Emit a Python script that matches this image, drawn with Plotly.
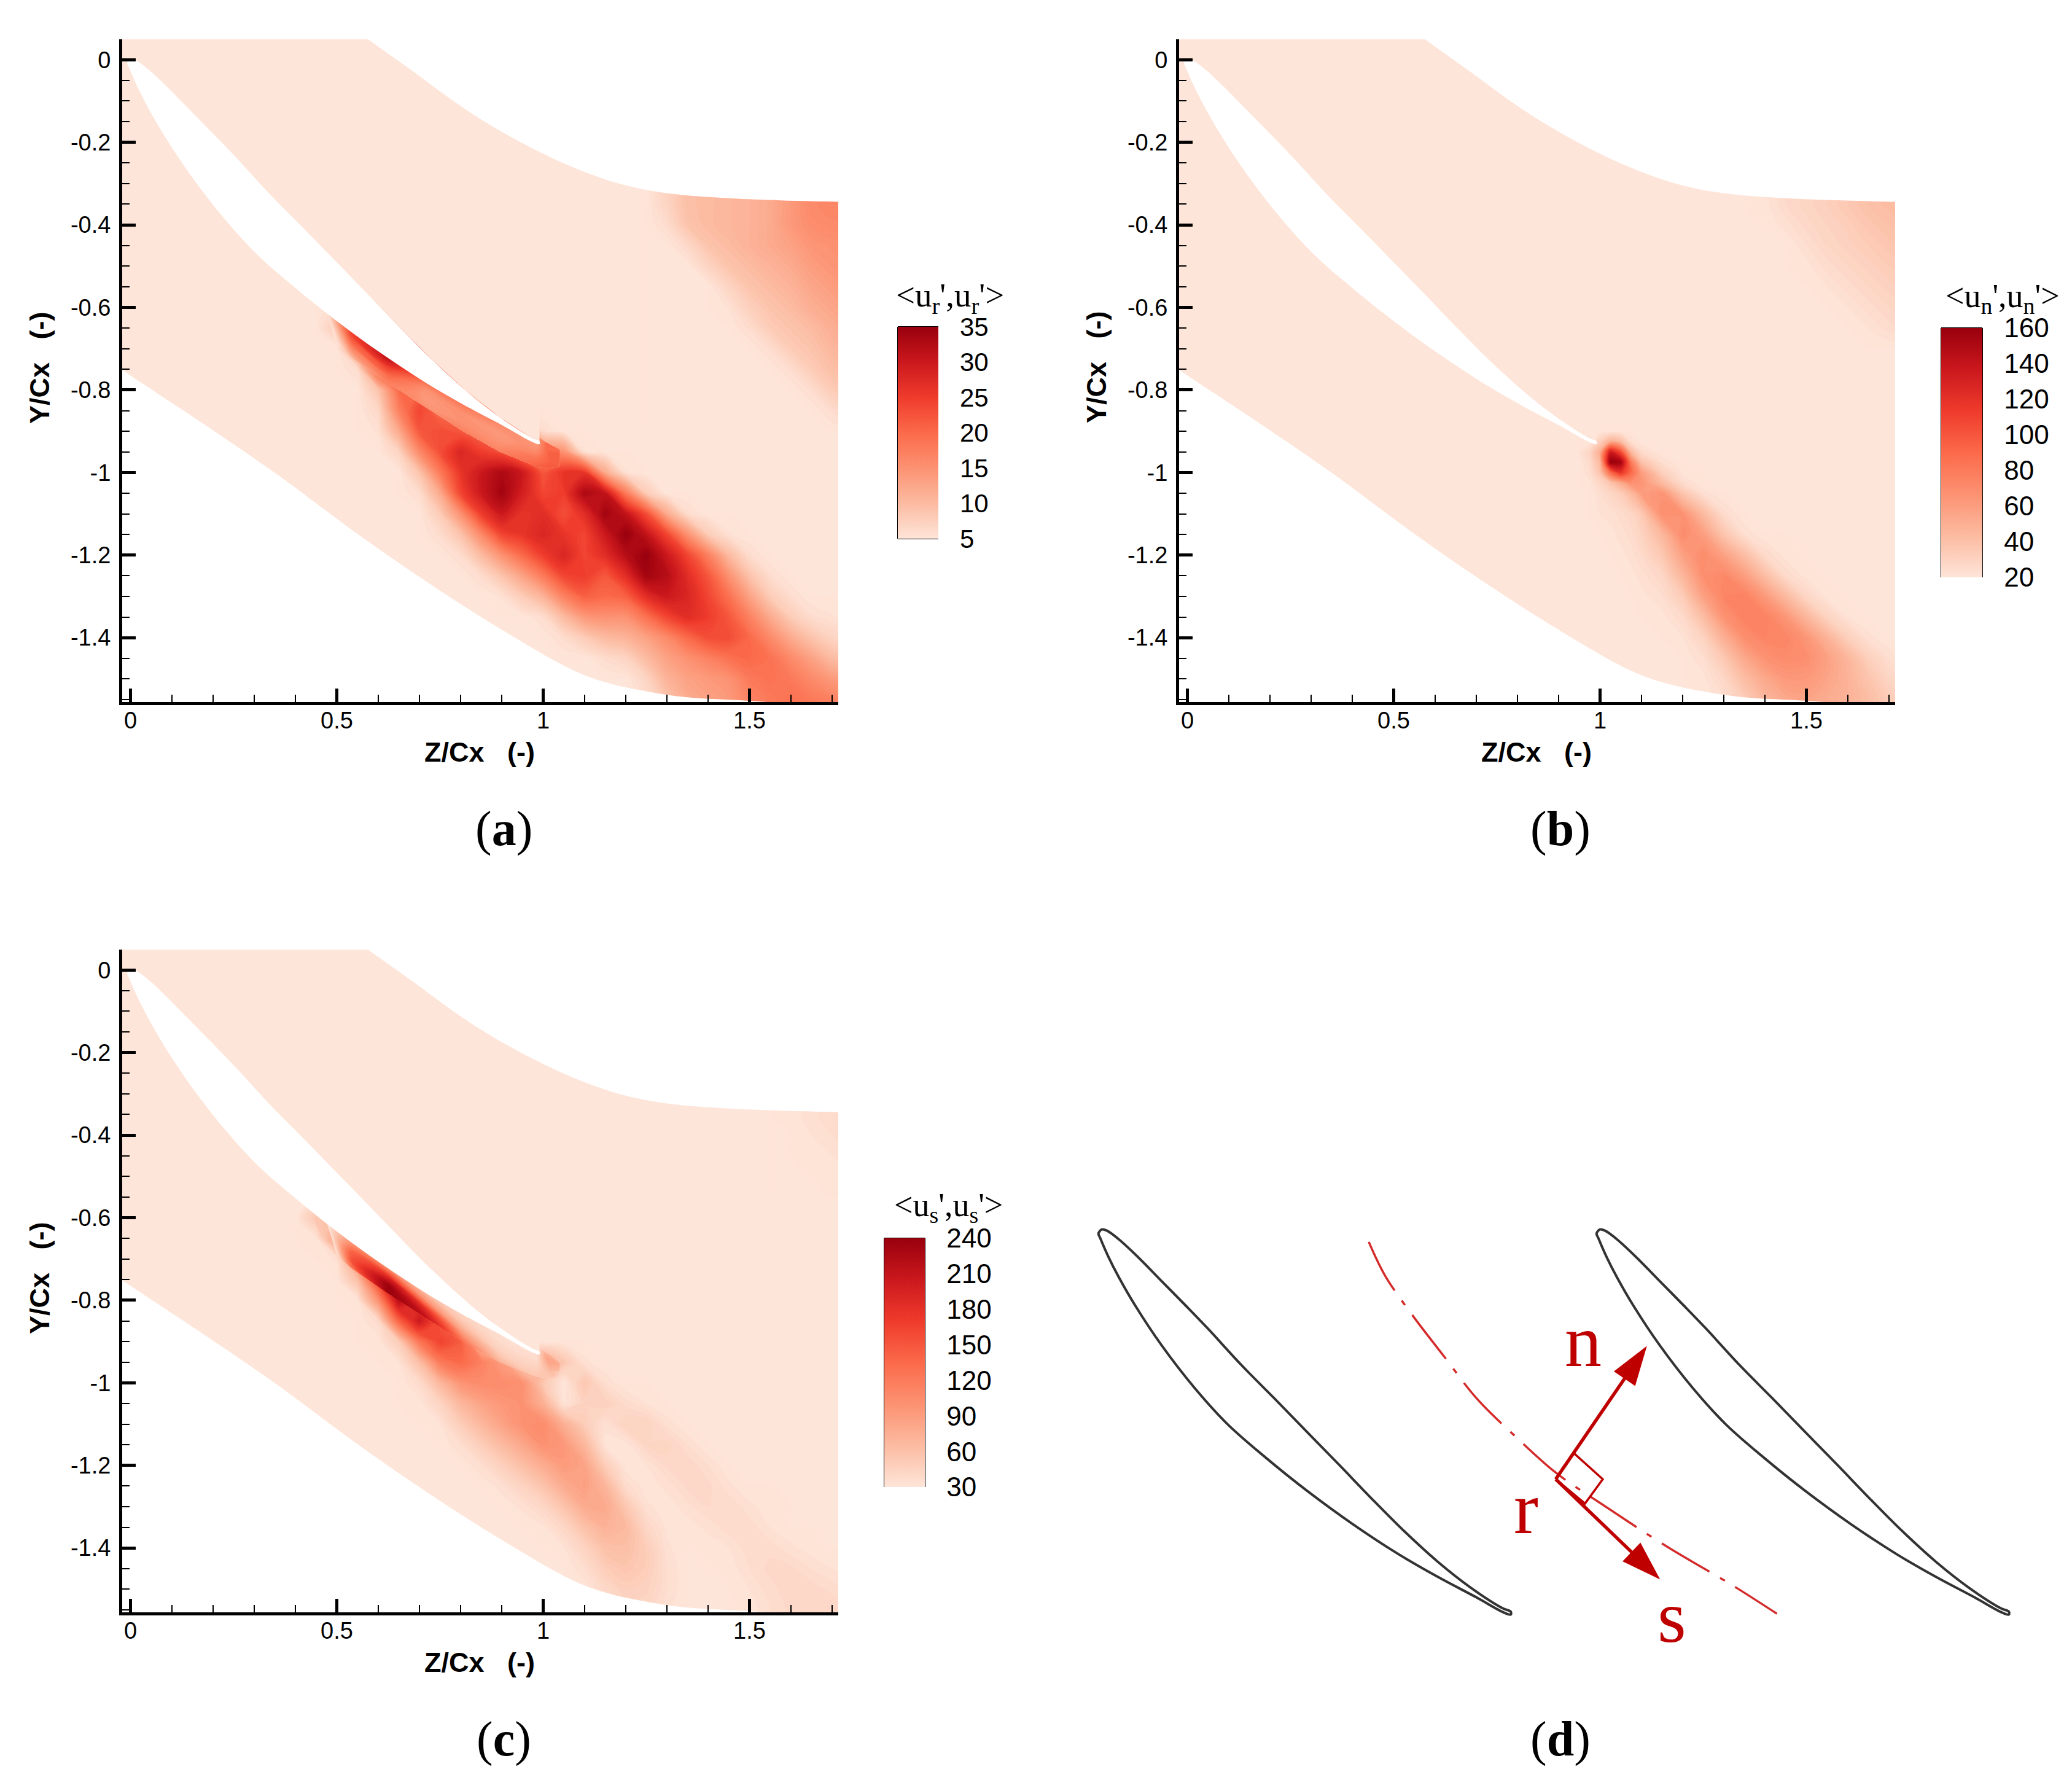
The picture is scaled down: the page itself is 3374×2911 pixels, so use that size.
import plotly.graph_objects as go

W, H = 3374, 2911
BG = "#fee5d9"
RED = "#bf0000"
reds = ["#fee5d9", "#fcbba1", "#fc9272", "#fb6a4a", "#ef3b2c", "#cb181d", "#99000d"]

# blade outline, same for all panels
blade_up_z = [0.0, 0.0126, 0.041, 0.091, 0.14, 0.204, 0.257, 0.337, 0.416, 0.496, 0.575, 0.654, 0.734, 0.813, 0.893, 0.972, 0.991]
blade_up_y = [0.002, -0.001, -0.0215, -0.068, -0.118, -0.183, -0.238, -0.325, -0.405, -0.487, -0.568, -0.65, -0.73, -0.802, -0.865, -0.916, -0.924]
blade_lo_z = [-0.008, -0.0037, 0.016, 0.041, 0.0815, 0.146, 0.225, 0.305, 0.40, 0.496, 0.607, 0.718, 0.813, 0.909, 0.972, 0.991]
blade_lo_y = [-0.008, -0.019, -0.064, -0.113, -0.183, -0.28, -0.382, -0.47, -0.553, -0.63, -0.711, -0.784, -0.839, -0.89, -0.925, -0.931]

# passage limits
top_z = [0.576, 0.684, 0.813, 0.942, 1.071, 1.184, 1.297, 1.458, 1.715, 1.8]
top_y = [0.049, -0.028, -0.121, -0.198, -0.26, -0.30, -0.323, -0.336, -0.344, -0.345]
low_z = [-0.05, -0.0245, 0.166, 0.353, 0.534, 0.714, 0.895, 1.075, 1.165, 1.255, 1.345, 1.499, 1.6, 1.8]
low_y = [-0.728, -0.748, -0.875, -1.003, -1.137, -1.262, -1.378, -1.48, -1.512, -1.531, -1.544, -1.553, -1.562, -1.6]

# strip under the blade, between its surface and the mesh interface line
band_top_z = [0.47, 0.534, 0.624, 0.714, 0.804, 0.895, 0.985, 1.003, 1.04]
band_top_y = [-0.595, -0.643, -0.705, -0.757, -0.814, -0.863, -0.911, -0.925, -0.945]
band_edge_z = [0.50, 0.534, 0.624, 0.714, 0.804, 0.895, 0.985, 1.025, 1.04]
band_edge_y = [-0.69, -0.721, -0.783, -0.841, -0.899, -0.95, -0.986, -0.988, -0.985]

xtick_vals = [0, 0.5, 1, 1.5]
xtick_text = ["0", "0.5", "1", "1.5"]
ytick_vals = [0, -0.2, -0.4, -0.6, -0.8, -1, -1.2, -1.4]
ytick_text = ["0", "-0.2", "-0.4", "-0.6", "-0.8", "-1", "-1.2", "-1.4"]

# panel (a) <ur',ur'>
a_ticks = [5, 10, 15, 20, 25, 30, 35]
a_lines = [25, 30]
a_wake_z = [0.45, 0.5, 0.55, 0.6, 0.65, 0.7, 0.75, 0.8, 0.85, 0.9, 0.95, 1.0, 1.05, 1.1, 1.15, 1.2, 1.25, 1.3, 1.35, 1.4, 1.45, 1.5, 1.55, 1.6, 1.65, 1.7, 1.75]
a_wake_y = [-0.55, -0.6, -0.65, -0.7, -0.75, -0.8, -0.85, -0.9, -0.95, -1.0, -1.05, -1.1, -1.15, -1.2, -1.25, -1.3, -1.35, -1.4, -1.45, -1.5, -1.55, -1.6]
a_wake = [
    [5],
    [5, 6, 18, 18],
    [5, 8, 24, 26, 26],
    [5, 5, 15, 28, 28, 28],
    [5, 5, 6, 22, 26, 24, 24],
    [5, 5, 5, 9, 20, 20, 22, 22],
    [5, 5, 5, 6.5, 17, 24, 20, 20, 21, 21],
    [5, 5, 5, 5.5, 12, 22, 23, 22, 20, 17, 17, 6],
    [5, 5, 5, 5, 7, 16, 23, 28, 25, 23, 18, 17, 15, 5.5],
    [5, 5, 5, 5, 5, 9, 18, 26, 30, 33, 30, 22, 26, 26, 12, 5.5],
    [5, 5, 5, 5, 5, 6, 12, 24, 30, 34, 29, 24, 25, 33, 31, 18, 8],
    [5, 5, 5, 5, 5, 5, 8, 15, 25, 30, 26, 27, 23, 27, 34, 31, 23, 12, 6],
    [5, 5, 5, 5, 5, 5, 6, 9, 16, 24, 26, 28, 26, 24, 30, 35, 31, 24, 15, 8, 5.5],
    [5, 5, 5, 5, 5, 5, 5, 6, 10, 15, 20, 25, 28, 24, 27, 32, 35, 30, 24, 17, 10, 6],
    [5, 5, 5, 5, 5, 5, 5, 5, 6, 9, 13, 18, 24, 25, 22, 27, 34, 32, 27, 22, 15, 9, 6],
    [5, 5, 5, 5, 5, 5, 5, 5, 5, 5.5, 8, 11, 17, 21, 20, 21, 27, 30, 28, 24, 19, 13, 8, 6],
    [5, 5, 5, 5, 5, 5, 5, 5, 5, 5, 5, 6, 10, 14, 15, 15, 19, 24, 27, 25, 22, 17, 12, 8, 6, 5.5],
    [5, 5, 5, 5, 5, 5, 5, 5, 5, 5, 5, 5, 6, 8, 10, 11, 13, 16, 20, 23, 23, 20, 16, 12, 9, 7, 6],
    [5, 5, 5, 5, 5, 5, 5, 5, 5, 5, 5, 5, 5, 5, 6, 7, 10, 13, 15, 17, 19, 20, 19, 16, 13, 10, 9],
    [5, 5, 5, 5, 5, 5, 5, 5, 5, 5, 5, 5, 5, 5, 5, 5, 7, 11, 13, 14, 15, 18, 19, 18, 16, 14, 13],
    [5, 5, 5, 5, 5, 5, 5, 5, 5, 5, 5, 5, 5, 5, 5, 5, 6, 9, 12, 13, 14, 17, 18, 19, 18, 17, 16],
    [5, 5, 5, 5, 5, 5, 5, 5, 5, 5, 5, 5, 5, 5, 5, 5, 6, 9, 12, 13, 14, 17, 18, 19, 18, 17, 16],
]
# one list per station along the blade, from blade surface to interface line
a_band = [
    [5, 5, 5, 5, 5],
    [22, 24, 20, 15, 10],
    [33, 31, 25, 20, 17],
    [28, 20, 15, 14, 15],
    [25, 18, 15, 15, 17],
    [21, 16, 14, 15, 17],
    [15, 14, 16, 19, 21],
    [18, 20, 21, 21, 22],
    [20, 21, 21, 21, 21],
]
a_corner_z = [1.25, 1.3, 1.35, 1.4, 1.45, 1.5, 1.55, 1.6, 1.65, 1.7, 1.75]
a_corner_y = [-0.3, -0.35, -0.4, -0.45, -0.5, -0.55, -0.6, -0.65, -0.7, -0.75, -0.8, -0.85, -0.9]
a_corner = [
    [5, 7, 9.5, 10, 10.5, 11, 12, 14, 16, 16.5, 16.5],
    [5, 7, 9.5, 10, 10.5, 11, 12, 14, 16, 16.5, 16.5],
    [5, 6, 9, 10, 10.5, 11, 12, 14, 15.5, 16, 16],
    [5, 5, 6.5, 9, 10, 11, 12, 13, 14.5, 15, 15.5],
    [5, 5, 5, 7, 9, 10, 11, 12, 13.5, 14.5, 15],
    [5, 5, 5, 5, 7, 9, 10, 11, 12.5, 13.5, 14.5],
    [5, 5, 5, 5, 5.5, 7.5, 9, 10, 11.5, 12.5, 13.5],
    [5, 5, 5, 5, 5, 6, 8, 9, 10, 11.5, 12.5],
    [5, 5, 5, 5, 5, 5, 6, 8, 9, 10.5, 11.5],
    [5, 5, 5, 5, 5, 5, 5, 6, 8, 9.5, 10.5],
    [5, 5, 5, 5, 5, 5, 5, 5, 6, 8, 9],
    [5, 5, 5, 5, 5, 5, 5, 5, 5, 6, 7],
    [5],
]

# panel (b) <un',un'>
b_ticks = [20, 40, 60, 80, 100, 120, 140, 160]
b_lines = [80, 100, 120, 140]
b_wake_z = [0.95, 0.975, 1.0, 1.025, 1.05, 1.075, 1.1, 1.15, 1.2, 1.25, 1.3, 1.35, 1.4, 1.45, 1.5, 1.55, 1.6, 1.65, 1.7, 1.75]
b_wake_y = [-0.9, -0.925, -0.95, -0.975, -1.0, -1.025, -1.05, -1.1, -1.15, -1.2, -1.25, -1.3, -1.35, -1.4, -1.45, -1.5, -1.55, -1.6]
b_wake = [
    [20],
    [20, 20, 32, 50, 42, 24],
    [22, 28, 50, 135, 105, 44, 26],
    [20, 26, 45, 160, 155, 80, 40, 24],
    [20, 24, 38, 88, 118, 90, 60, 32, 21],
    [20, 21, 28, 38, 52, 68, 65, 44, 25],
    [20, 20, 24, 28, 33, 44, 60, 65, 38, 23],
    [20, 20, 22, 23, 25, 28, 35, 68, 66, 44, 25],
    [20, 20, 20, 21, 23, 25, 30, 45, 70, 60, 38, 24],
    [20, 20, 20, 20, 21, 23, 26, 36, 58, 70, 58, 42, 26, 21],
    [20, 20, 20, 20, 20, 21, 23, 28, 46, 68, 72, 60, 42, 26, 21],
    [20, 20, 20, 20, 20, 20, 21, 24, 34, 58, 74, 76, 62, 44, 28, 21],
    [20, 20, 20, 20, 20, 20, 20, 21, 26, 42, 66, 76, 76, 64, 46, 30, 22],
    [20, 20, 20, 20, 20, 20, 20, 20, 22, 30, 50, 68, 74, 74, 64, 48, 32, 23],
    [20, 20, 20, 20, 20, 20, 20, 20, 20, 24, 36, 54, 66, 70, 68, 58, 46, 32, 24, 21],
    [20, 20, 20, 20, 20, 20, 20, 20, 20, 21, 28, 42, 54, 62, 62, 56, 48, 38, 29, 24],
    [20, 20, 20, 20, 20, 20, 20, 20, 20, 20, 24, 34, 46, 54, 56, 52, 48, 42, 34, 28],
    [20, 20, 20, 20, 20, 20, 20, 20, 20, 20, 24, 34, 46, 54, 56, 52, 48, 42, 34, 28],
]
b_corner_z = [1.35, 1.4, 1.45, 1.5, 1.55, 1.6, 1.65, 1.7, 1.75]
b_corner_y = [-0.3, -0.35, -0.4, -0.45, -0.5, -0.55, -0.6, -0.65, -0.7]
b_corner = [
    [20, 20, 26, 29, 32, 36, 40, 43, 45],
    [20, 21, 26, 29, 32, 36, 40, 43, 45],
    [20, 20, 23, 27, 30, 33, 37, 40, 42],
    [20, 20, 20, 24, 28, 31, 34, 37, 39],
    [20, 20, 20, 21, 25, 28, 31, 34, 36],
    [20, 20, 20, 20, 22, 25, 28, 31, 33],
    [20, 20, 20, 20, 20, 22, 25, 28, 30],
    [20, 20, 20, 20, 20, 20, 22, 25, 27],
    [20],
]

# panel (c) <us',us'>
c_ticks = [30, 60, 90, 120, 150, 180, 210, 240]
c_lines = [120, 150, 180, 210]
c_wake_z = [0.4, 0.45, 0.5, 0.55, 0.6, 0.65, 0.7, 0.75, 0.8, 0.85, 0.9, 0.95, 1.0, 1.05, 1.1, 1.15, 1.2, 1.25, 1.3, 1.35, 1.4, 1.45, 1.5, 1.55, 1.6, 1.65, 1.7, 1.75]
c_wake_y = [-0.55, -0.6, -0.65, -0.7, -0.75, -0.8, -0.85, -0.9, -0.95, -1.0, -1.05, -1.1, -1.15, -1.2, -1.25, -1.3, -1.35, -1.4, -1.45, -1.5, -1.55, -1.6]
c_wake = [
    [30],
    [30, 55, 60, 60],
    [30, 32, 90, 115, 115],
    [30, 30, 34, 120, 200, 120],
    [30, 30, 30, 62, 170, 235, 150],
    [30, 30, 30, 31, 100, 220, 170, 70, 40],
    [30, 30, 30, 30, 38, 140, 205, 150, 60, 45, 40],
    [30, 30, 30, 30, 31, 50, 125, 165, 145, 60, 42, 42],
    [30, 30, 30, 30, 30, 33, 62, 120, 135, 115, 90, 42, 80, 55, 34],
    [30, 30, 30, 30, 30, 30, 38, 68, 98, 105, 105, 100, 55, 30, 55, 36],
    [30, 30, 30, 30, 30, 30, 31, 44, 68, 85, 95, 100, 75, 32, 45, 48, 38, 33],
    [30, 30, 30, 30, 30, 30, 30, 33, 50, 68, 85, 100, 105, 75, 50, 34, 45, 45, 35],
    [30, 30, 30, 30, 30, 30, 30, 30, 36, 50, 65, 82, 100, 95, 68, 32, 31, 42, 44, 36],
    [30, 30, 30, 30, 30, 30, 30, 30, 30, 36, 48, 62, 78, 92, 85, 50, 31, 33, 40, 42, 36],
    [30, 30, 30, 30, 30, 30, 30, 30, 30, 30, 35, 45, 58, 78, 88, 70, 38, 31, 34, 40, 40, 34],
    [30, 30, 30, 30, 30, 30, 30, 30, 30, 30, 30, 34, 42, 58, 78, 80, 55, 34, 31, 35, 39, 39, 34, 31],
    [30, 30, 30, 30, 30, 30, 30, 30, 30, 30, 30, 30, 32, 42, 60, 72, 66, 42, 32, 31, 34, 38, 38, 33],
    [30, 30, 30, 30, 30, 30, 30, 30, 30, 30, 30, 30, 30, 33, 45, 60, 62, 50, 34, 30, 31, 33, 38, 38, 34, 31],
    [30, 30, 30, 30, 30, 30, 30, 30, 30, 30, 30, 30, 30, 30, 36, 50, 56, 50, 36, 30, 30, 31, 36, 40, 40, 36, 33, 31],
    [30, 30, 30, 30, 30, 30, 30, 30, 30, 30, 30, 30, 30, 30, 31, 40, 48, 46, 36, 30, 30, 30, 33, 38, 41, 41, 38, 34],
    [30, 30, 30, 30, 30, 30, 30, 30, 30, 30, 30, 30, 30, 30, 30, 34, 42, 42, 34, 30, 30, 30, 31, 36, 40, 42, 42, 40],
    [30, 30, 30, 30, 30, 30, 30, 30, 30, 30, 30, 30, 30, 30, 30, 34, 42, 42, 34, 30, 30, 30, 31, 36, 40, 42, 42, 40],
]
c_band = [
    [30, 30, 30, 30, 30],
    [60, 100, 140, 150, 120],
    [60, 110, 190, 238, 240],
    [45, 60, 100, 180, 215],
    [40, 44, 58, 90, 130],
    [36, 36, 40, 50, 70],
    [35, 36, 40, 48, 56],
    [70, 85, 80, 65, 55],
    [50, 80, 70, 50, 40],
]
c_corner_z = [1.55, 1.6, 1.65, 1.7, 1.75]
c_corner_y = [-0.3, -0.35, -0.4, -0.45, -0.5, -0.55]
c_corner = [
    [30, 31, 35, 38, 40],
    [30, 31, 35, 38, 40],
    [30, 30, 33, 36, 38],
    [30, 30, 31, 33, 35],
    [30, 30, 30, 31, 32],
    [30],
]

# panel (d) sketch
pitch = 1.207
mid_z = [0.647, 0.686, 0.75, 0.829, 0.909, 1.004, 1.10, 1.211, 1.369, 1.528, 1.636]
mid_y = [-0.028, -0.109, -0.202, -0.305, -0.408, -0.501, -0.587, -0.663, -0.766, -0.86, -0.929]
n_z, n_y = [1.10, 1.321], [-0.603, -0.28]
s_z, s_y = [1.10, 1.353], [-0.603, -0.846]
box_z = [1.10, 1.144, 1.214, 1.171]
box_y = [-0.603, -0.54, -0.603, -0.662]


def px(x):
    return x / W


def py(y):
    return 1 - y / H


def grid(rows, z, bg):
    return [r + [bg] * (len(z) - len(r)) for r in rows]


def label(text, x, y, family, size, color="black", angle=0):
    return dict(text=text, x=px(x), y=py(y), xref="paper", yref="paper", xanchor="center", yanchor="middle",
                textangle=angle, showarrow=False, font=dict(family=family, size=size, color=color))


fig = go.Figure()
hidden = dict(showgrid=False, showline=False, showticklabels="none", startline=False, endline=False,
              minorgridcount=0, smoothing=0)


def add_field(name, node_z, node_y, values, xa, ya, vmin, vmax):
    # contourcarpet so that all fields share one drawing layer and keep their order
    a = list(range(len(node_z[0])))
    b = list(range(len(node_z)))
    fig.add_trace(go.Carpet(carpet=name, a=a, b=b, x=node_z, y=node_y, aaxis=hidden, baxis=hidden, xaxis=xa, yaxis=ya))
    fig.add_trace(go.Contourcarpet(
        carpet=name, a=a, b=b, z=values, zmin=vmin, zmax=vmax, colorscale=reds, showscale=False,
        contours=dict(coloring="fill", start=vmin, end=vmax, size=(vmax - vmin) / 70, showlines=False),
        line=dict(width=0, smoothing=1.0), xaxis=xa, yaxis=ya))


panels = [
    dict(name="a", ax="", x0=0, y0=0, vmin=5, vmax=35, ticks=a_ticks, lines=a_lines, band=a_band,
         patches=[(a_wake_z, a_wake_y, a_wake), (a_corner_z, a_corner_y, a_corner)],
         bar=(1462, 1528, 532, 877), tsize=42, frame="bottom",
         title="&lt;u<sub>r</sub>',u<sub>r</sub>'&gt;", tpos=(1547, 484, 55)),
    dict(name="b", ax="2", x0=1721, y0=0, vmin=20, vmax=160, ticks=b_ticks, lines=b_lines, band=None,
         patches=[(b_wake_z, b_wake_y, b_wake), (b_corner_z, b_corner_y, b_corner)],
         bar=(3161, 3228, 534, 940), tsize=44, frame="right",
         title="&lt;u<sub>n</sub>',u<sub>n</sub>'&gt;", tpos=(3261, 486, 54)),
    dict(name="c", ax="3", x0=0, y0=1482, vmin=30, vmax=240, ticks=c_ticks, lines=c_lines, band=c_band,
         patches=[(c_wake_z, c_wake_y, c_wake), (c_corner_z, c_corner_y, c_corner)],
         bar=(1440, 1506, 2016, 2421), tsize=44, frame="right",
         title="&lt;u<sub>s</sub>',u<sub>s</sub>'&gt;", tpos=(1544, 1966, 54)),
]

shapes = []
annotations = []
layout_axes = {}

for p in panels:
    xa, ya = "x" + p["ax"], "y" + p["ax"]
    vmin, vmax = p["vmin"], p["vmax"]
    left, right, top, bottom = p["bar"]
    # pale base with the colorbar
    fig.add_trace(go.Heatmap(
        x=[-0.05, 1.8], y=[-1.6, 0.1], z=[[vmin, vmin], [vmin, vmin]], showscale=True,
        zmin=vmin, zmax=vmax, colorscale=reds, hoverinfo="skip", xaxis=xa, yaxis=ya,
        colorbar=dict(
            lenmode="pixels", len=bottom - top, thicknessmode="pixels", thickness=right - left,
            x=px(left), xanchor="left", xpad=0, y=py(top), yanchor="top", ypad=0,
            outlinewidth=0, tickvals=p["ticks"], ticktext=[str(t) for t in p["ticks"]],
            ticks="outside", ticklen=27, tickcolor="rgba(0,0,0,0)",
            tickfont=dict(family="Liberation Sans", size=p["tsize"], color="black"),
        )))
    for i, (pz, py_, pv) in enumerate(p["patches"]):
        add_field("%s%d" % (p["name"], i), [pz] * len(py_), [[v] * len(pz) for v in py_], grid(pv, pz, vmin), xa, ya, vmin, vmax)
    # strip under the blade has its own curved grid, so the interface line stays sharp
    if p["band"]:
        stations = range(len(band_top_z))
        cross = [0, 0.25, 0.5, 0.75, 1]
        node_z = [[band_top_z[i] + f * (band_edge_z[i] - band_top_z[i]) for i in stations] for f in cross]
        node_y = [[band_top_y[i] + f * (band_edge_y[i] - band_top_y[i]) for i in stations] for f in cross]
        add_field(p["name"] + "band", node_z, node_y, [[s[j] for s in p["band"]] for j in range(5)], xa, ya, vmin, vmax)
    # pale area above the blade rear part, stops wake values leaking over it
    fig.add_trace(go.Scatter(
        x=blade_up_z[8:] + [0.991, 0.416], y=blade_up_y[8:] + [-0.3, -0.3], mode="lines", fill="toself",
        fillcolor=BG, line=dict(width=0), xaxis=xa, yaxis=ya, hoverinfo="skip", showlegend=False))
    # everything outside the passage is white
    masks = [
        (blade_up_z + blade_lo_z[::-1] + blade_up_z[:1], blade_up_y + blade_lo_y[::-1] + blade_up_y[:1]),
        (top_z + [1.8, 0.576], top_y + [0.1, 0.1]),
        (low_z + [-0.05], low_y + [-1.7]),
    ]
    for mz, my in masks:
        fig.add_trace(go.Scatter(
            x=mz, y=my, mode="lines", fill="toself", fillcolor="white",
            line=dict(width=0, shape="spline", smoothing=1),
            xaxis=xa, yaxis=ya, hoverinfo="skip", showlegend=False))

    dx, dy = p["x0"], p["y0"]
    common = dict(ticks="inside", ticklen=22, tickwidth=5, tickcolor="black", showline=True, linecolor="black",
                  linewidth=5, showgrid=False, zeroline=False,
                  tickfont=dict(family="Liberation Sans", size=38, color="black"))
    layout_axes["xaxis" + p["ax"]] = dict(
        domain=[px(199 + dx), px(1365 + dx)], range=[-0.0201, 1.715], anchor=ya,
        tickvals=xtick_vals, ticktext=xtick_text, ticklabelstandoff=-8,
        minor=dict(dtick=0.1, tick0=0, ticks="inside", ticklen=12, tickwidth=1.5, tickcolor="black", showgrid=False),
        **common)
    layout_axes["yaxis" + p["ax"]] = dict(
        domain=[py(1143 + dy), py(64 + dy)], range=[-1.556, 0.0495], anchor=xa,
        tickvals=ytick_vals, ticktext=ytick_text, ticklabelstandoff=6,
        minor=dict(dtick=0.05, tick0=0, ticks="inside", ticklen=12, tickwidth=1.5, tickcolor="black", showgrid=False),
        **common)

    annotations.append(label("<b>Z/Cx\u00a0\u00a0\u00a0(-)</b>", 781 + dx, 1224 + dy, "Liberation Sans", 45))
    annotations.append(label("<b>Y/Cx\u00a0\u00a0\u00a0(-)</b>", 64 + dx, 598 + dy, "Liberation Sans", 45, angle=-90))
    annotations.append(label(p["title"], p["tpos"][0], p["tpos"][1], "Liberation Serif", p["tpos"][2]))
    annotations.append(label("(<b>%s</b>)" % p["name"], 820 + dx, 1349 + dy, "Liberation Serif", 80))

    # colorbar frame and level lines
    line = dict(color="black", width=2)
    shapes.append(dict(type="line", xref="paper", yref="paper", x0=px(left), x1=px(left), y0=py(top), y1=py(bottom), line=line))
    if p["frame"] == "right":
        shapes.append(dict(type="line", xref="paper", yref="paper", x0=px(right), x1=px(right), y0=py(top), y1=py(bottom), line=line))
        bar_lines = [vmax] + p["lines"]
    else:
        bar_lines = [vmin, vmax] + p["lines"]
    for v in bar_lines:
        yv = bottom - (v - vmin) / (vmax - vmin) * (bottom - top)
        shapes.append(dict(type="line", xref="paper", yref="paper", x0=px(left), x1=px(right), y0=py(yv), y1=py(yv), line=line))

# panel (d)
for shift in [0, pitch]:
    fig.add_trace(go.Scatter(
        x=[z + shift for z in blade_up_z + blade_lo_z[::-1] + blade_up_z[:1]],
        y=blade_up_y + blade_lo_y[::-1] + blade_up_y[:1],
        mode="lines", line=dict(color="#333333", width=4, shape="spline", smoothing=1),
        xaxis="x4", yaxis="y4", hoverinfo="skip", showlegend=False))
fig.add_trace(go.Scatter(
    x=mid_z, y=mid_y, mode="lines", line=dict(color="#d42a2a", width=3.5, dash="90px,20px,9px,20px", shape="spline"),
    xaxis="x4", yaxis="y4", hoverinfo="skip", showlegend=False))
fig.add_trace(go.Scatter(
    x=box_z + box_z[:1], y=box_y + box_y[:1], mode="lines", line=dict(color=RED, width=3.5),
    xaxis="x4", yaxis="y4", hoverinfo="skip", showlegend=False))
for az, ay in [(n_z, n_y), (s_z, s_y)]:
    fig.add_trace(go.Scatter(
        x=az, y=ay, mode="lines+markers", line=dict(color=RED, width=5.5),
        marker=dict(symbol=["circle", "arrow"], size=[1, 68], color=RED, opacity=1, angleref="previous", line=dict(width=0)),
        xaxis="x4", yaxis="y4", hoverinfo="skip", showlegend=False))
layout_axes["xaxis4"] = dict(domain=[px(1700), px(3374)], range=[-0.14, 2.351], visible=False, anchor="y4")
layout_axes["yaxis4"] = dict(domain=[py(2750), py(1950)], range=[-1.1116, 0.0789], visible=False, anchor="x4")

for letter, lx, ly in [("n", 2578, 2183), ("r", 2485, 2455), ("s", 2722, 2632)]:
    annotations.append(label(letter, lx, ly, "Liberation Serif", 120, color=RED))
annotations.append(label("(<b>d</b>)", 2541, 2831, "Liberation Serif", 80))

fig.update_layout(
    width=W, height=H, autosize=False, margin=dict(l=0, r=0, t=0, b=0, pad=0, autoexpand=False),
    paper_bgcolor="white", plot_bgcolor="white", showlegend=False,
    shapes=shapes, annotations=annotations, **layout_axes)

fig.write_html("out.html", config={"displayModeBar": False}, post_script="document.body.style.margin='0';")
